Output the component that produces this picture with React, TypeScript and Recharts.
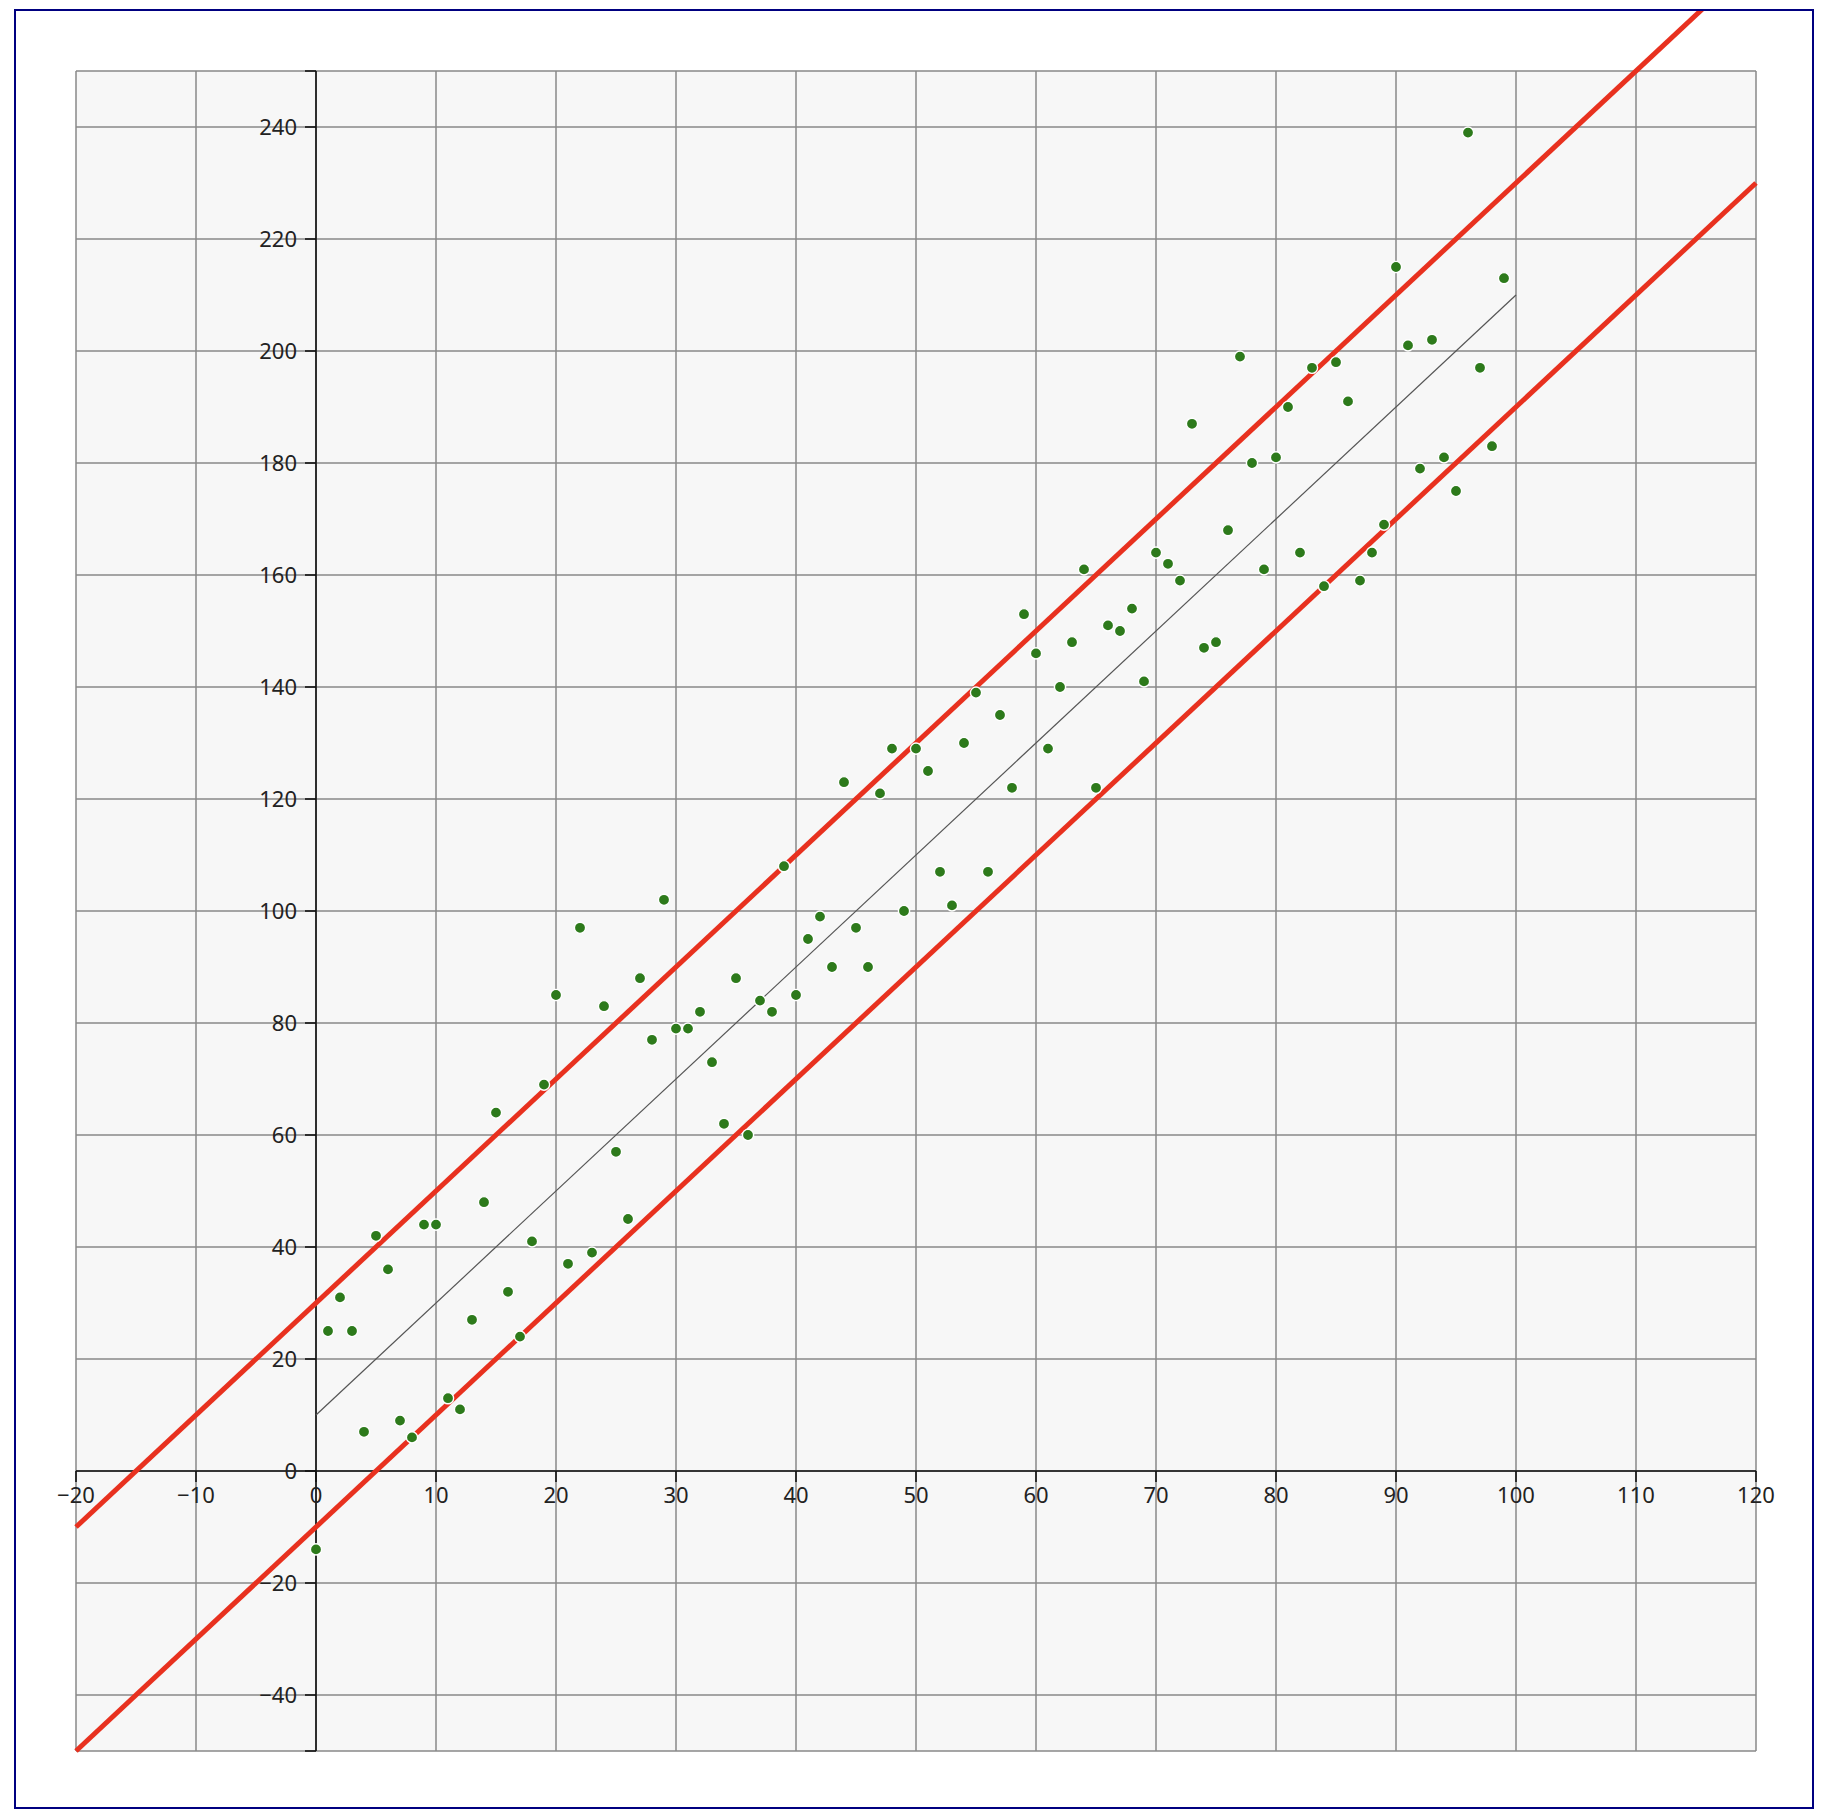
import React from "react";
import {
  ScatterChart,
  Scatter,
  XAxis,
  YAxis,
  CartesianGrid,
  ReferenceLine,
  ReferenceDot,
} from "recharts";

// observed x positions
const xValues = [
  0, 1, 2, 3, 4, 5, 6, 7, 8, 9,
  10, 11, 12, 13, 14, 15, 16, 17, 18, 19,
  20, 21, 22, 23, 24, 25, 26, 27, 28, 29,
  30, 31, 32, 33, 34, 35, 36, 37, 38, 39,
  40, 41, 42, 43, 44, 45, 46, 47, 48, 49,
  50, 51, 52, 53, 54, 55, 56, 57, 58, 59,
  60, 61, 62, 63, 64, 65, 66, 67, 68, 69,
  70, 71, 72, 73, 74, 75, 76, 77, 78, 79,
  80, 81, 82, 83, 84, 85, 86, 87, 88, 89,
  90, 91, 92, 93, 94, 95, 96, 97, 98, 99,
];

// observed y values
const yValues = [
  -14, 25, 31, 25, 7, 42, 36, 9, 6, 44,
  44, 13, 11, 27, 48, 64, 32, 24, 41, 69,
  85, 37, 97, 39, 83, 57, 45, 88, 77, 102,
  79, 79, 82, 73, 62, 88, 60, 84, 82, 108,
  85, 95, 99, 90, 123, 97, 90, 121, 129, 100,
  129, 125, 107, 101, 130, 139, 107, 135, 122, 153,
  146, 129, 140, 148, 161, 122, 151, 150, 154, 141,
  164, 162, 159, 187, 147, 148, 168, 199, 180, 161,
  181, 190, 164, 197, 158, 198, 191, 159, 164, 169,
  215, 201, 179, 202, 181, 175, 239, 197, 183, 213,
];

// fitted line and the +/-20 band
const fitLine = [
  { x: 0, y: 10 },
  { x: 100, y: 210 },
];
const upperBand = [
  { x: -20, y: -10 },
  { x: 120, y: 270 },
];
const lowerBand = [
  { x: -20, y: -50 },
  { x: 120, y: 230 },
];

const xTicks = [-20, -10, 0, 10, 20, 30, 40, 50, 60, 70, 80, 90, 100, 110, 120];
const yGridTicks = [-50, -40, -20, 0, 20, 40, 60, 80, 100, 120, 140, 160, 180, 200, 220, 240, 250];
const yLabelTicks = [-40, -20, 0, 20, 40, 60, 80, 100, 120, 140, 160, 180, 200, 220, 240];

const points = xValues.map((x, i) => ({ x, y: yValues[i] }));

const AXIS = "#111111";
const FONT = "'Noto Sans', 'Open Sans', sans-serif";

const fmt = (v: number) => (v < 0 ? `\u2212${Math.abs(v)}` : `${v}`);

const xTickShape = (label: string) => (p: any) => (
  <g>
    <line x1={p.cx} y1={p.cy} x2={p.cx} y2={p.cy + 11} stroke={AXIS} strokeWidth={1.6} />
    <text x={p.cx} y={p.cy + 32} textAnchor="middle" fontFamily={FONT} fontSize={22} fill="#222">
      {label}
    </text>
  </g>
);

const yTickShape = (label: string | null) => (p: any) => (
  <g>
    <line x1={p.cx - 11} y1={p.cy} x2={p.cx} y2={p.cy} stroke={AXIS} strokeWidth={1.6} />
    {label !== null && (
      <text x={p.cx - 19} y={p.cy + 7.5} textAnchor="end" fontFamily={FONT} fontSize={22} fill="#222">
        {label}
      </text>
    )}
  </g>
);

const Dot = (p: any) => (
  <circle cx={p.cx} cy={p.cy} r={5.6} fill="#2d7a1b" stroke="#ffffff" strokeWidth={1.4} />
);

export default function App() {
  return (
    <div
      style={{
        position: "absolute",
        left: 14,
        top: 9,
        width: 1800,
        height: 1800,
        boxSizing: "border-box",
        border: "2px solid #000080",
        background: "#ffffff",
      }}
    >
      <ScatterChart width={1796} height={1796} margin={{ top: 60, right: 56, bottom: 56, left: 60 }}>
        <CartesianGrid stroke="#888888" strokeWidth={1.5} fill="#f7f7f7" fillOpacity={1} />
        <XAxis type="number" dataKey="x" domain={[-20, 120]} ticks={xTicks} allowDataOverflow hide />
        <YAxis type="number" dataKey="y" domain={[-50, 250]} ticks={yGridTicks} allowDataOverflow hide />

        <ReferenceLine y={0} stroke={AXIS} strokeWidth={1.6} zIndex={300} />
        <ReferenceLine x={0} stroke={AXIS} strokeWidth={1.6} zIndex={300} />

        {xTicks.map((t) => (
          <ReferenceDot key={`xt${t}`} x={t} y={0} r={0} ifOverflow="visible" shape={xTickShape(fmt(t))} zIndex={350} />
        ))}
        {yGridTicks.map((t) => (
          <ReferenceDot
            key={`yt${t}`}
            x={0}
            y={t}
            r={0}
            ifOverflow="visible"
            shape={yTickShape(yLabelTicks.includes(t) ? fmt(t) : null)}
            zIndex={350}
          />
        ))}

        <ReferenceLine segment={fitLine} ifOverflow="visible" stroke="#555555" strokeWidth={1.2} zIndex={400} />
        <ReferenceLine segment={upperBand} ifOverflow="visible" stroke="#e8311f" strokeWidth={5} zIndex={400} />
        <ReferenceLine segment={lowerBand} ifOverflow="visible" stroke="#e8311f" strokeWidth={5} zIndex={400} />

        <Scatter data={points} shape={Dot} isAnimationActive={false} zIndex={600} />
      </ScatterChart>
    </div>
  );
}
